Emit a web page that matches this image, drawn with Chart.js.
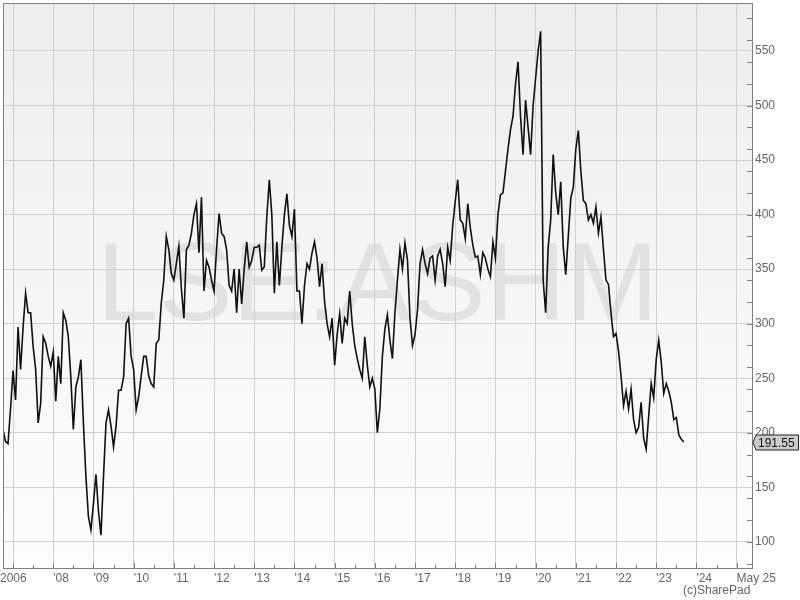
<!DOCTYPE html>
<html>
<head>
<meta charset="utf-8">
<script src="https://cdn.jsdelivr.net/npm/chart.js@4"></script>
<style>
  html, body { margin: 0; padding: 0; background: #fff; }
  canvas { display: block; }
</style>
</head>
<body>
<canvas id="priceChart" width="800" height="600"></canvas>
<script>
// sampled every 1/16 year, starting Oct 2006
const startYear = 2006.75;
const step = 1 / 16;

const prices2006 = [203, 192, 190, 222];
const prices2007 = [257, 230, 297, 258, 297, 328, 310, 310, 279, 258, 209, 227, 288, 282, 270, 261];
const prices2008 = [274, 229, 270, 245, 310, 303, 288, 251, 203, 242, 251, 267, 209, 160, 123, 111];
const prices2009 = [135, 162, 128, 106, 160, 209, 221, 206, 187, 206, 239, 239, 251, 300, 305, 270];
const prices2010 = [258, 221, 233, 252, 270, 270, 252, 245, 242, 282, 285, 319, 340, 380, 368, 346];
const prices2011 = [340, 355, 371, 332, 305, 368, 372, 383, 400, 410, 365, 416, 330, 358, 352, 340];
const prices2012 = [330, 368, 401, 383, 380, 368, 335, 330, 350, 310, 350, 318, 350, 375, 352, 358];
const prices2013 = [370, 370, 372, 349, 352, 398, 432, 400, 328, 375, 335, 370, 400, 419, 390, 380];
const prices2014 = [405, 330, 330, 300, 335, 355, 350, 365, 375, 360, 334, 355, 320, 300, 288, 305];
const prices2015 = [262, 290, 309, 282, 305, 300, 330, 300, 280, 268, 258, 250, 288, 262, 242, 250];
const prices2016 = [240, 200, 222, 270, 295, 308, 285, 268, 310, 340, 368, 350, 374, 358, 305, 280];
const prices2017 = [290, 313, 355, 368, 355, 346, 360, 362, 340, 362, 368, 355, 334, 370, 358, 390];
const prices2018 = [412, 432, 395, 392, 378, 410, 388, 372, 361, 362, 345, 365, 360, 350, 343, 375];
const prices2019 = [360, 400, 418, 420, 440, 460, 478, 490, 520, 540, 490, 455, 505, 480, 455, 500];
const prices2020 = [525, 550, 568, 340, 310, 370, 395, 455, 420, 400, 430, 370, 345, 380, 415, 425];
const prices2021 = [460, 477, 440, 413, 410, 395, 400, 392, 407, 383, 398, 368, 340, 336, 310, 288];
const prices2022 = [291, 275, 252, 225, 238, 222, 240, 212, 200, 205, 228, 195, 185, 215, 245, 232];
const prices2023 = [267, 285, 265, 236, 245, 238, 228, 212, 214, 198, 194, 191.55];

const tickYears = [2007, 2008, 2009, 2010, 2011, 2012, 2013, 2014, 2015, 2016,
                   2017, 2018, 2019, 2020, 2021, 2022, 2023, 2024, 2025];
const tickLabels = ['2006', "'08", "'09", "'10", "'11", "'12", "'13", "'14", "'15", "'16",
                    "'17", "'18", "'19", "'20", "'21", "'22", "'23", "'24", 'May 25'];
const priceTicks = [100, 150, 200, 250, 300, 350, 400, 450, 500, 550];

const symbol = 'LSE:ASHM';
const lastPrice = 191.55;
const credit = '(c)SharePad';

const prices = [].concat(prices2006, prices2007, prices2008, prices2009, prices2010,
    prices2011, prices2012, prices2013, prices2014, prices2015, prices2016, prices2017,
    prices2018, prices2019, prices2020, prices2021, prices2022, prices2023);
const points = prices.map((p, i) => ({ x: startYear + i * step, y: p }));

const FONT = '"Liberation Sans", Arial, sans-serif';
const AXIS = '#808080';

const decor = {
    id: 'decor',
    beforeDraw(chart) {
        const { ctx, chartArea: a } = chart;
        ctx.save();
        const g = ctx.createLinearGradient(0, a.top, 0, a.bottom);
        g.addColorStop(0, '#eeeeee');
        g.addColorStop(1, '#fdfdfd');
        ctx.fillStyle = g;
        ctx.fillRect(a.left, a.top, a.right - a.left, a.bottom - a.top);

        // watermark
        ctx.font = '111px ' + FONT;
        ctx.fillStyle = '#e2e2e2';
        ctx.textAlign = 'center';
        ctx.textBaseline = 'alphabetic';
        ctx.fillText(symbol, (a.left + a.right) / 2, 320);
        ctx.restore();
    },
    afterDraw(chart) {
        const { ctx, chartArea: a } = chart;
        const xs = chart.scales.x, ys = chart.scales.y;
        ctx.save();
        ctx.strokeStyle = AXIS;
        ctx.lineWidth = 1;

        // left + top frame
        ctx.beginPath();
        ctx.moveTo(a.left + 0.5, a.bottom);
        ctx.lineTo(a.left + 0.5, a.top + 0.5);
        ctx.lineTo(a.right, a.top + 0.5);
        ctx.stroke();

        // inner ticks on the price axis, every 20
        ctx.beginPath();
        for (let v = 80; v <= 590; v += 20) {
            const y = Math.round(ys.getPixelForValue(v)) + 0.5;
            ctx.moveTo(a.right - 5, y);
            ctx.lineTo(a.right, y);
        }
        // inner ticks on the date axis, every half year
        for (let t = 2007; t <= 2025; t += 0.5) {
            const x = Math.round(xs.getPixelForValue(t)) + 0.5;
            ctx.moveTo(x, a.bottom);
            ctx.lineTo(x, a.bottom - (t % 1 === 0 ? 5 : 3));
        }
        ctx.stroke();

        // date labels, left aligned at their tick
        ctx.font = '12px ' + FONT;
        ctx.fillStyle = '#666';
        ctx.textAlign = 'left';
        ctx.textBaseline = 'alphabetic';
        tickYears.forEach((t, i) => {
            let x = xs.getPixelForValue(t);
            if (i === 0) x = 0;
            ctx.fillText(tickLabels[i], x, 582);
        });
        ctx.fillText(credit, 683, 594);

        // last price tag
        const py = Math.round(ys.getPixelForValue(lastPrice)) + 0.5;
        ctx.beginPath();
        ctx.moveTo(a.right + 1, py);
        ctx.lineTo(a.right + 4, py - 7.5);
        ctx.lineTo(798.5, py - 7.5);
        ctx.lineTo(798.5, py + 7.5);
        ctx.lineTo(a.right + 4, py + 7.5);
        ctx.closePath();
        ctx.fillStyle = '#cccccc';
        ctx.fill();
        ctx.strokeStyle = '#222';
        ctx.stroke();
        ctx.fillStyle = '#111';
        ctx.textBaseline = 'middle';
        ctx.fillText(lastPrice.toFixed(2), a.right + 6, py + 1);
        ctx.restore();
    }
};

new Chart(document.getElementById('priceChart'), {
    type: 'line',
    data: {
        datasets: [{
            data: points,
            borderColor: '#111111',
            borderWidth: 1.6,
            pointRadius: 0,
            tension: 0
        }]
    },
    options: {
        responsive: false,
        animation: false,
        devicePixelRatio: 1,
        layout: { autoPadding: false, padding: { left: 3, top: 3, right: 0, bottom: 0 } },
        plugins: { legend: { display: false }, tooltip: { enabled: false } },
        scales: {
            x: {
                type: 'linear',
                min: 2006.75,
                max: 2025.383,
                afterBuildTicks: s => { s.ticks = tickYears.map(v => ({ value: v })); },
                afterFit: s => { s.height = 32; s.paddingLeft = 0; s.paddingRight = 0; },
                ticks: { display: false },
                grid: { color: '#d0d0d0', drawTicks: false },
                border: { display: true, color: AXIS }
            },
            y: {
                position: 'right',
                min: 76,
                max: 594,
                afterBuildTicks: s => { s.ticks = priceTicks.map(v => ({ value: v })); },
                afterFit: s => { s.width = 48; s.paddingTop = 0; s.paddingBottom = 0; },
                ticks: {
                    color: '#666',
                    padding: 3,
                    font: { family: FONT, size: 12 }
                },
                grid: { color: '#d0d0d0', drawTicks: false },
                border: { display: true, color: AXIS }
            }
        }
    },
    plugins: [decor]
});
</script>
</body>
</html>
